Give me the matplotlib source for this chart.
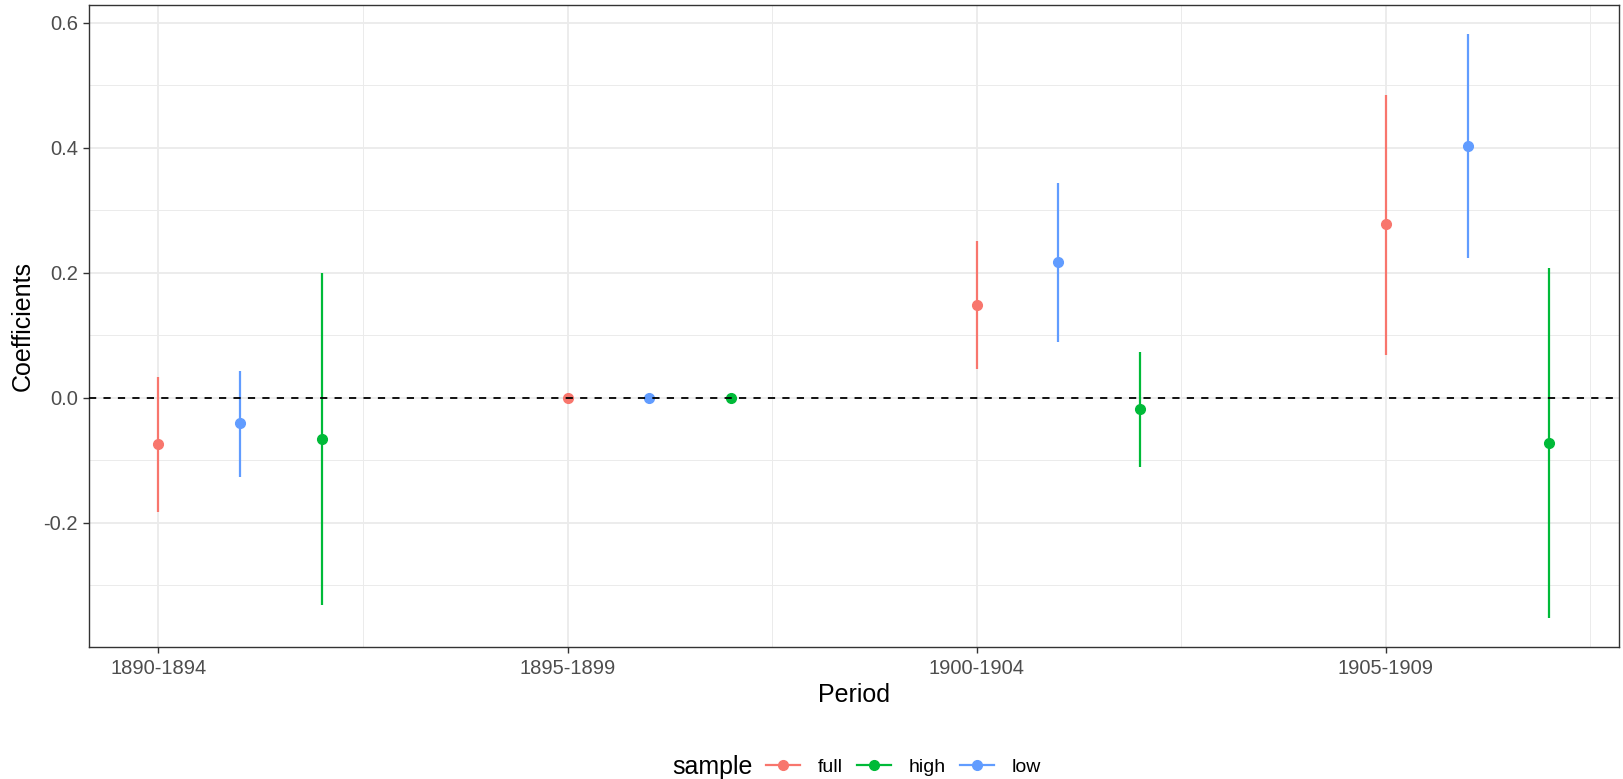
import matplotlib.pyplot as plt
from matplotlib.lines import Line2D
import numpy as np

plt.rcParams['font.family'] = ['Liberation Sans', 'DejaVu Sans']

periods = ['1890-1894', '1895-1899', '1900-1904', '1905-1909']
samples = ['full', 'high', 'low']
colors = {'full': '#F8766D', 'high': '#00BA38', 'low': '#619CFF'}
offsets = {'full': 0.0, 'low': 0.2, 'high': 0.4}

# point estimates and confidence bounds per sample (one value per period)
est_full = [-0.074, 0.0, 0.149, 0.278]
lo_full = [-0.182, 0.0, 0.046, 0.069]
hi_full = [0.033, 0.0, 0.251, 0.484]

est_low = [-0.041, 0.0, 0.218, 0.403]
lo_low = [-0.126, 0.0, 0.089, 0.223]
hi_low = [0.043, 0.0, 0.344, 0.582]

est_high = [-0.066, 0.0, -0.018, -0.073]
lo_high = [-0.332, 0.0, -0.111, -0.352]
hi_high = [0.200, 0.0, 0.073, 0.207]

data = {
    'full': (est_full, lo_full, hi_full),
    'low': (est_low, lo_low, hi_low),
    'high': (est_high, lo_high, hi_high),
}

fig = plt.figure(figsize=(16.23, 7.79), dpi=100)
ax = fig.add_axes([0.0548, 0.1695, 0.9427, 0.8241])

base = np.arange(len(periods))
for s in ['full', 'low', 'high']:
    est, lo, hi = data[s]
    x = base + offsets[s]
    ax.vlines(x, lo, hi, color=colors[s], lw=1.6, zorder=3)
    ax.plot(x, est, 'o', color=colors[s], ms=7, zorder=4)

ax.axhline(0, color='black', ls=(0, (4, 4)), lw=1.3, zorder=5)

allx = np.concatenate([base + offsets[s] for s in samples])
ally = np.concatenate([data[s][1] + data[s][2] for s in samples])
xr = allx.max() - allx.min()
yr = ally.max() - ally.min()
ax.set_xlim(allx.min() - 0.05 * xr, allx.max() + 0.05 * xr)
ax.set_ylim(ally.min() - 0.05 * yr, ally.max() + 0.05 * yr)

ax.set_xticks(base)
ax.set_xticklabels(periods)
ax.set_xticks(base + 0.5, minor=True)
ax.set_yticks([-0.2, 0.0, 0.2, 0.4, 0.6])
ax.set_yticklabels(['-0.2', '0.0', '0.2', '0.4', '0.6'])
ax.set_yticks([-0.3, -0.1, 0.1, 0.3, 0.5], minor=True)

ax.grid(which='major', color='#EBEBEB', lw=1.3, zorder=0)
ax.grid(which='minor', color='#EBEBEB', lw=0.7, zorder=0)
ax.set_axisbelow(True)
ax.tick_params(which='major', length=4, width=1, color='#333333', labelsize=14.5,
               labelcolor='#4D4D4D', pad=4)
ax.tick_params(axis='x', which='major', pad=5)
ax.tick_params(which='minor', length=0)
for sp in ax.spines.values():
    sp.set_color('#333333')
    sp.set_linewidth(1)

ax.set_xlabel('Period', fontsize=18, labelpad=3)
ax.set_ylabel('Coefficients', fontsize=18, labelpad=6)

# legend: title to the left, entries in a row
ly = 1 - 767 / 779
fig.text(672 / 1623, ly, 'sample', fontsize=18, va='center', ha='left')
handles = [Line2D([0], [0], color=colors[s], lw=1.6, marker='o', ms=7) for s in samples]
fig.legend(handles, samples, loc='center left', bbox_to_anchor=(766 / 1623, ly),
           ncol=3, frameon=False, fontsize=14, handlelength=1.75,
           columnspacing=0.75, handletextpad=0.9, borderpad=0, borderaxespad=0)

fig.savefig('out.png', dpi=100)
